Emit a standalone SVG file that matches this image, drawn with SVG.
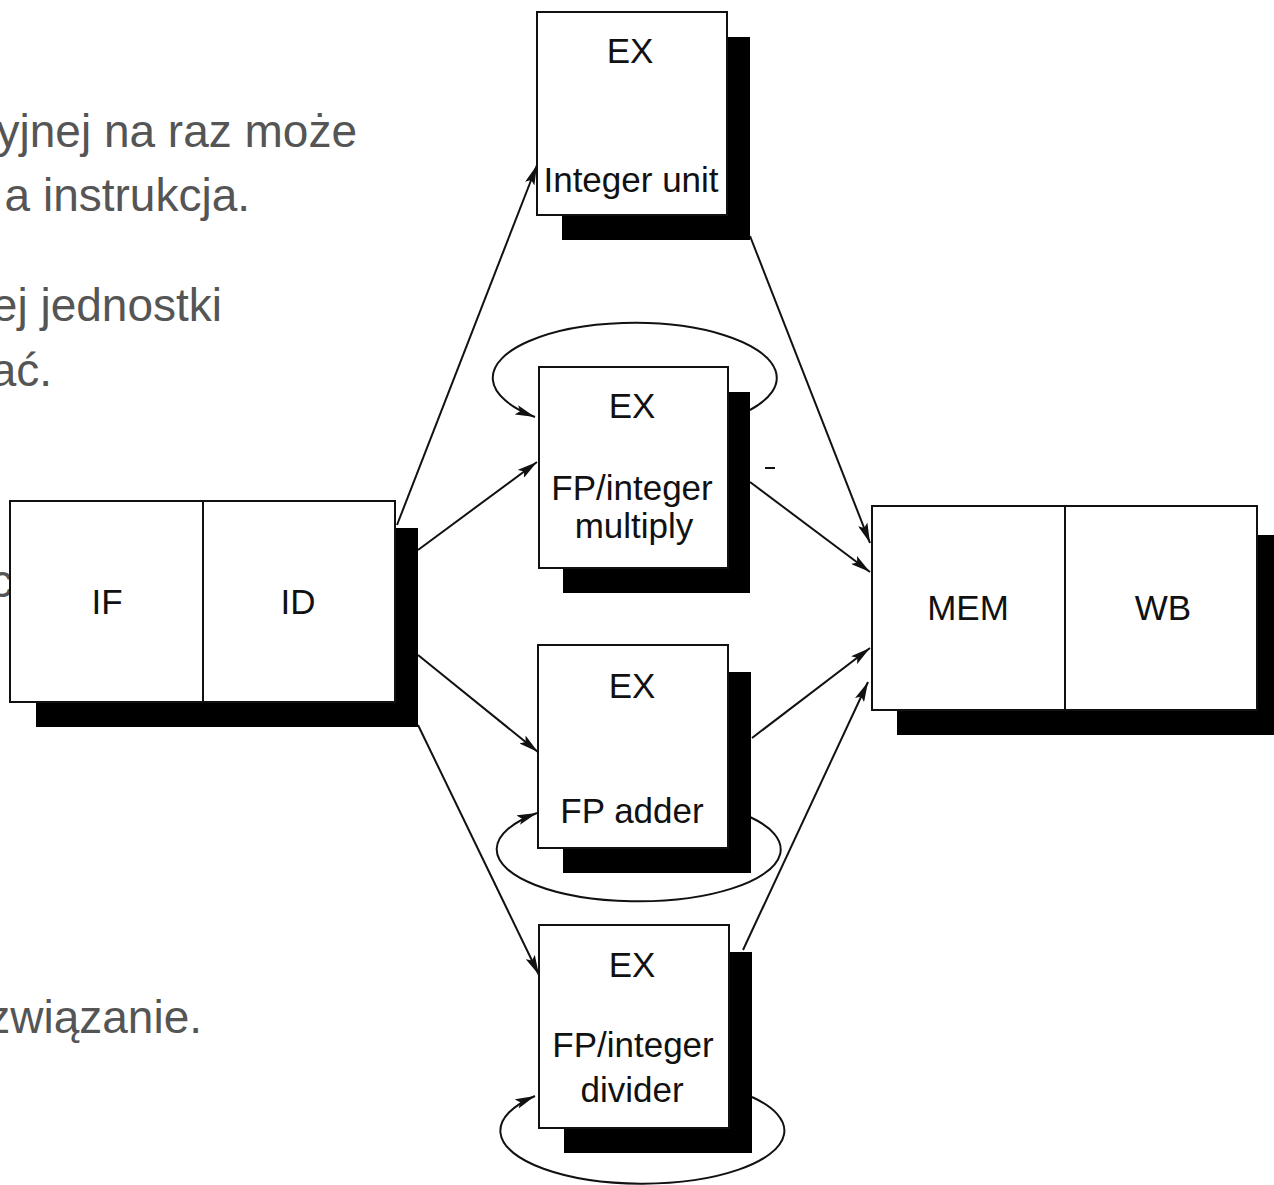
<svg xmlns="http://www.w3.org/2000/svg" width="1274" height="1185" viewBox="0 0 1274 1185">
<style>
.bg{fill:#ffffff}
.note{font-family:"Liberation Sans",Arial,sans-serif;font-size:46px;fill:#555555;text-anchor:end}
.box{fill:#ffffff;stroke:#111111;stroke-width:2}
.shadow{fill:#000000}
.lbl{font-family:"Liberation Sans",Arial,sans-serif;font-size:35px;fill:#111111;text-anchor:middle}
.conn{fill:none;stroke:#111111;stroke-width:2}
</style>
<defs>
<marker id="arr" viewBox="0 0 20 10" refX="20" refY="5" markerWidth="20" markerHeight="10" markerUnits="userSpaceOnUse" orient="auto">
<path d="M0,0 L20,5 L0,10 L4,5 Z" fill="#111111"/>
</marker>
</defs>
<rect class="bg" x="0" y="0" width="1274" height="1185"/>
<g id="notes">
<text class="note" x="357" y="147">yjnej na raz może</text>
<text class="note" x="250" y="211">a instrukcja.</text>
<text class="note" x="222" y="321">ej jednostki</text>
<text class="note" x="52" y="386">ać.</text>
<text class="note" x="13" y="597">c</text>
<text class="note" x="202" y="1033">związanie.</text>
</g>
<g id="connectors">
<line class="conn" x1="397" y1="525" x2="537" y2="165" marker-end="url(#arr)"/>
<line class="conn" x1="418" y1="550" x2="537" y2="462" marker-end="url(#arr)"/>
<line class="conn" x1="418" y1="655" x2="538" y2="752" marker-end="url(#arr)"/>
<line class="conn" x1="418" y1="725" x2="539" y2="975" marker-end="url(#arr)"/>
<line class="conn" x1="750" y1="236" x2="870" y2="543" marker-end="url(#arr)"/>
<line class="conn" x1="750" y1="482" x2="870" y2="572" marker-end="url(#arr)"/>
<line class="conn" x1="752" y1="738" x2="870" y2="648" marker-end="url(#arr)"/>
<line class="conn" x1="743" y1="950" x2="868" y2="682" marker-end="url(#arr)"/>
<path class="conn" d="M750,410 A142,55 0 1 0 535,417" marker-end="url(#arr)"/>
<path class="conn" d="M750,817 A142,52 0 1 1 537,813" marker-end="url(#arr)"/>
<path class="conn" d="M752,1097 A142,53 0 1 1 535,1096" marker-end="url(#arr)"/>
<line class="conn" x1="765" y1="468" x2="775" y2="468"/>
</g>
<g id="if-id">
<rect class="shadow" x="36" y="528" width="382" height="199"/>
<rect class="box" x="10" y="501" width="385" height="201"/>
<line class="conn" x1="203" y1="501" x2="203" y2="702"/>
<text class="lbl" x="107" y="614">IF</text>
<text class="lbl" x="298" y="614">ID</text>
</g>
<g id="integer-unit">
<rect class="shadow" x="562" y="37" width="188" height="203"/>
<rect class="box" x="537" y="12" width="190" height="203"/>
<text class="lbl" x="630" y="63">EX</text>
<text class="lbl" x="631" y="192">Integer unit</text>
</g>
<g id="fp-multiply">
<rect class="shadow" x="563" y="392" width="187" height="201"/>
<rect class="box" x="539" y="367" width="189" height="201"/>
<text class="lbl" x="632" y="418">EX</text>
<text class="lbl" x="632" y="500" font-size="34">FP/integer</text>
<text class="lbl" x="634" y="538" font-size="34">multiply</text>
</g>
<g id="fp-adder">
<rect class="shadow" x="563" y="672" width="188" height="201"/>
<rect class="box" x="538" y="645" width="190" height="203"/>
<text class="lbl" x="632" y="698">EX</text>
<text class="lbl" x="632" y="823">FP adder</text>
</g>
<g id="fp-divider">
<rect class="shadow" x="564" y="952" width="188" height="201"/>
<rect class="box" x="539" y="925" width="190" height="203"/>
<text class="lbl" x="632" y="977">EX</text>
<text class="lbl" x="633" y="1057">FP/integer</text>
<text class="lbl" x="632" y="1102">divider</text>
</g>
<g id="mem-wb">
<rect class="shadow" x="897" y="535" width="390" height="200"/>
<rect class="box" x="872" y="506" width="385" height="204"/>
<line class="conn" x1="1065" y1="506" x2="1065" y2="710"/>
<text class="lbl" x="968" y="620">MEM</text>
<text class="lbl" x="1163" y="620">WB</text>
</g>
</svg>
